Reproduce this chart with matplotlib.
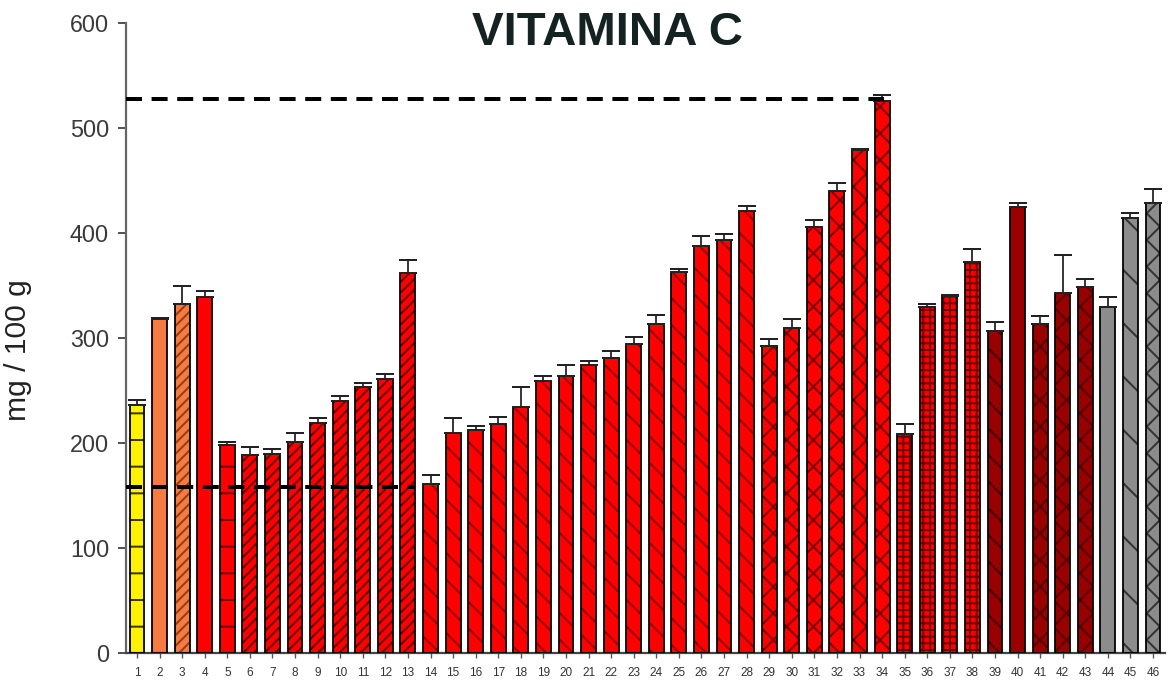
import matplotlib
matplotlib.use("Agg")
import matplotlib.pyplot as plt
import numpy as np

# ---- data ----
samples = list(range(1, 47))
vit_c = [236, 318, 332, 339, 198, 189, 190, 201, 219, 240, 253, 261, 362,
         161, 210, 212, 218, 234, 259, 264, 274, 281, 294, 313, 363, 388, 393, 421,
         292, 310, 406, 440, 479, 526,
         209, 330, 340, 372,
         307, 425, 313, 343, 349,
         330, 414, 429]
vit_c_err = [5, 1, 18, 6, 3, 7, 4, 9, 5, 5, 4, 5, 12,
             9, 14, 4, 7, 19, 5, 10, 4, 7, 7, 9, 3, 9, 6, 5,
             7, 8, 6, 8, 1, 5,
             9, 2.5, 1, 13,
             8, 4, 8, 36, 7,
             9, 5, 13]
ref_high = 528
ref_low = 158
ref_high_end = 34
ref_low_end = 13

# ---- styles ----
YEL, ORA, RED, DRED, GRY = '#FFF200', '#F47C42', '#FF0000', '#990000', '#8C8C8C'
face = ([YEL, ORA, ORA] + [RED] * 35 + [DRED] * 5 + [GRY] * 3)
hatches = (['-', '', '/////', '', '-'] + ['/////'] * 8 + ['\\\\'] * 15 +
           ['xx'] * 6 + ['++++'] * 4 + ['\\\\', '', 'xx', 'xx', 'xx'] +
           ['', '\\', 'xx'])
hcols = (['#3a3a00', ORA, '#9a3a10', RED, '#700000'] + ['#6a0000'] * 8 +
         ['#990000'] * 15 + ['#7a0000'] * 6 + ['#700000'] * 4 +
         ['#4a0000', DRED, '#5a0000', '#5a0000', '#5a0000'] +
         [GRY, '#333333', '#333333'])

plt.rcParams['font.family'] = ['Liberation Sans', 'DejaVu Sans']
plt.rcParams['hatch.linewidth'] = 0.9

W, H, DPI = 1173, 684, 160
fig = plt.figure(figsize=(W / DPI, H / DPI), dpi=DPI)
ax = fig.add_axes([126 / W, 1 - 653 / H, 1039 / W, (653 - 23) / H])

x = np.array(samples)
bw = 0.66
for xi, v, fc, h, hc in zip(x, vit_c, face, hatches, hcols):
    ax.bar(xi, v, bw, color=fc, edgecolor=hc, hatch=h, linewidth=0, zorder=2)
ax.bar(x, vit_c, bw, fill=False, edgecolor='black', linewidth=0.8, zorder=3)
ax.errorbar(x, vit_c, yerr=[np.zeros(len(vit_c)), vit_c_err], fmt='none',
            ecolor='#222222', elinewidth=0.8, capsize=4.2, capthick=0.9, zorder=3)

xmin = 0.513
ax.set_xlim(xmin, 46.53)
ax.set_ylim(0, 600)
ax.hlines(ref_high, xmin, ref_high_end + 0.1, colors='black', linewidth=1.8,
          linestyles=(0, (4, 2.4)), zorder=5)
ax.hlines(ref_low, xmin, ref_low_end + 0.3, colors='black', linewidth=1.8,
          linestyles=(0, (4, 2.4)), zorder=5)

for s in ['top', 'right']:
    ax.spines[s].set_visible(False)
ax.spines['left'].set_color('#666666')
ax.spines['bottom'].set_color('#444444')
ax.spines['left'].set_linewidth(1.0)
ax.spines['bottom'].set_linewidth(1.0)

ax.set_yticks([0, 100, 200, 300, 400, 500, 600])
ax.tick_params(axis='y', direction='out', length=3.6, width=0.9, colors='#555555',
               labelcolor='#3a3a3a', labelsize=10.5, pad=4)
ax.set_xticks(x)
ax.set_xticklabels([str(s) for s in samples])
ax.tick_params(axis='x', direction='out', length=2.3, width=0.6, colors='#555555',
               labelcolor='#333333', labelsize=5.3, pad=4)

fig.text(607 / W, 1 - 33 / H, 'VITAMINA C', ha='center', va='center',
         fontsize=21.3, fontweight='bold', color='#142222')
fig.text(18 / W, 1 - 350 / H, 'mg / 100 g', ha='center', va='center',
         rotation=90, fontsize=13.5, color='#222222')

fig.savefig('out.png', dpi=DPI, facecolor='white')
